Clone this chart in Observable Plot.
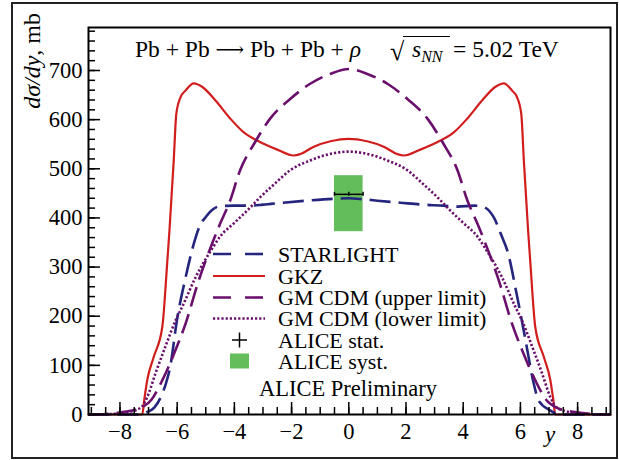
<!DOCTYPE html>
<html>
<head>
<meta charset="utf-8">
<script src="https://cdn.jsdelivr.net/npm/d3@7"></script>
<script src="https://cdn.jsdelivr.net/npm/@observablehq/plot@0.6"></script>
<style>
  html, body { margin: 0; padding: 0; background: #fff; }
  #wrap { position: relative; width: 619px; height: 460px; }
  #wrap svg.overlay { position: absolute; left: 0; top: 0; pointer-events: none; }
  #chart { position: absolute; left: 0; top: 0; }
</style>
</head>
<body>
<div id="wrap"><div id="chart"></div></div>
<script>
// ---------------- data ----------------
const xMajorTicks = [-8, -6, -4, -2, 0, 2, 4, 6, 8];
const yMajorTicks = [0, 100, 200, 300, 400, 500, 600, 700];

// GKZ (red solid)
const gkzY = [-9.1, -7.22, -7.15, -7.05, -6.82, -6.52, -6.35, -6.27, -6.12, -6.03, -5.88, -5.71, -5.42, -5.13, -4.66, -4.14, -3.67, -3.09, -2.5, -1.92, -1.69, -1.22, -0.64, 0,
              0.64, 1.22, 1.69, 1.92, 2.5, 3.09, 3.67, 4.14, 4.66, 5.13, 5.42, 5.71, 5.88, 6.03, 6.12, 6.27, 6.35, 6.52, 6.82, 7.05, 7.15, 7.22, 9.15];
const gkzV = [0, 0, 30, 69, 117, 178, 307, 374, 517, 612, 646, 659, 674, 667, 639, 602, 574, 554, 539, 527, 530, 545, 556, 561,
              556, 545, 530, 527, 539, 554, 574, 602, 639, 667, 674, 659, 646, 612, 517, 374, 307, 178, 117, 69, 30, 0, 0];

// STARLIGHT (navy dashed)
const slY = [-9.1, -7.4, -7.1, -6.8, -6.55, -6.4, -6.25, -6.0, -5.72, -5.42, -5.2, -5.0, -4.8, -4.5, -4.0, -3.5, -3.0, -2.3, -1.5, -0.5, 0,
             0.5, 1.0, 1.8, 2.6, 3.3, 3.8, 4.4, 4.72, 5.07, 5.36, 5.54, 5.89, 6.18, 6.47, 6.64, 7.05, 7.35, 9.15];
const slV = [0, 0, 4, 14, 38, 62, 95, 195, 275, 347, 385, 402, 415, 424, 425, 425, 427, 431, 435, 439, 440,
             438, 435, 431, 427, 425, 423, 425, 422, 401, 361, 334, 239, 151, 62, 28, 8, 0, 0];

// GM CDM upper limit (purple long dash)
const gmUpY = [-9.1, -8.5, -7.9, -7.3, -6.9, -6.5, -6.1, -5.7, -5.25, -4.75, -4.5, -4.15, -3.8, -3.3, -2.75, -2.05, -1.35, -0.65, 0,
               0.65, 1.35, 2.05, 2.75, 3.3, 3.8, 4.15, 4.5, 4.75, 5.25, 5.7, 6.1, 6.5, 6.9, 7.3, 7.9, 8.5, 9.15];
const gmUpV = [0, 1, 5, 13, 30, 72, 125, 186, 272, 352, 388, 435, 497, 552, 602, 642, 673, 693, 703,
               693, 673, 642, 602, 552, 497, 435, 388, 352, 272, 186, 125, 72, 30, 13, 5, 1, 0];

// GM CDM lower limit (purple dotted)
const gmLoY = [-9.1, -8.3, -7.7, -7.25, -7.05, -6.75, -6.4, -6.05, -5.8, -5.35, -4.75, -4.5, -4.0, -3.55, -3.1, -2.6, -2.05, -1.35, -0.5, 0,
               0.5, 1.35, 2.05, 2.6, 3.1, 3.55, 4.0, 4.5, 4.75, 5.35, 5.8, 6.05, 6.4, 6.75, 7.05, 7.25, 7.7, 8.3, 9.15];
const gmLoV = [0, 1, 5, 15, 35, 85, 140, 192, 222, 280, 340, 362, 390, 415, 442, 469, 497, 517, 532, 535,
               532, 517, 497, 469, 442, 415, 390, 362, 340, 280, 222, 192, 140, 85, 35, 15, 5, 1, 0];

// ALICE preliminary point
const aliceY = [0];
const aliceYLo = [-0.5];
const aliceYHi = [0.5];
const aliceVal = [448];
const aliceStat = [4];
const aliceSystLo = [372];
const aliceSystHi = [486];

// ---------------- build tables ----------------
const zip = (xs, vs) => xs.map((x, i) => ({x, v: vs[i]}));
const gkz = zip(gkzY, gkzV);
const starlight = zip(slY, slV);
const gmUp = zip(gmUpY, gmUpV);
const gmLo = zip(gmLoY, gmLoV);
const alice = aliceY.map((x, i) => ({x, x1: aliceYLo[i], x2: aliceYHi[i], v: aliceVal[i],
  s1: aliceVal[i] - aliceStat[i], s2: aliceVal[i] + aliceStat[i], sy1: aliceSystLo[i], sy2: aliceSystHi[i]}));
const aliceCaps = alice.flatMap(d => [d.x1, d.x, d.x2].map(x => ({x, s1: d.s1, s2: d.s2})));

const C_SL = "#25257e", C_GKZ = "#d21d1d", C_GM = "#6a106c", C_GREEN = "#64bd5b";

const W = 619, H = 460, ML = 88, MR = 9, MT = 27, MB = 46;
const innerW = W - ML - MR, innerH = H - MT - MB;
const xDomain = [-9.1, 9.15];
const xMinorTicks = d3.range(-9, 9.01, 0.5);
const yMinorTicks = d3.range(0, 781, 20);
const FONT = "'Liberation Serif', 'DejaVu Serif', serif";

const chart = Plot.plot({
  width: W, height: H,
  marginLeft: ML, marginRight: MR, marginTop: MT, marginBottom: MB,
  x: {domain: xDomain, label: null},
  y: {domain: [0, 787.5], label: null},
  style: {fontFamily: FONT, fontSize: "22.5px", color: "black", background: "transparent"},
  marks: [
    Plot.rect(alice, {x1: "x1", x2: "x2", y1: "sy1", y2: "sy2", fill: C_GREEN}),
    Plot.line(gkz, {x: "x", y: "v", stroke: C_GKZ, strokeWidth: 2.2, curve: "monotone-x"}),
    Plot.line(starlight, {x: "x", y: "v", stroke: C_SL, strokeWidth: 2.6, strokeDasharray: "21,8", strokeLinecap: "butt", curve: "monotone-x"}),
    Plot.line(gmLo, {x: "x", y: "v", stroke: C_GM, strokeWidth: 2.6, strokeDasharray: "2.2,2", strokeLinecap: "butt", curve: "monotone-x"}),
    Plot.line(gmUp, {x: "x", y: "v", stroke: C_GM, strokeWidth: 2.6, strokeDasharray: "20,8", strokeLinecap: "butt", curve: "monotone-x"}),
    Plot.ruleY(alice, {x1: "x1", x2: "x2", y: "v", stroke: "black", strokeWidth: 1.5}),
    Plot.ruleX(aliceCaps, {x: "x", y1: "s1", y2: "s2", stroke: "black", strokeWidth: 1.5}),
    // inward ticks
    Plot.tickX(xMinorTicks, {x: d => d, insetTop: innerH - 7, stroke: "black", strokeWidth: 1.5}),
    Plot.tickX(xMajorTicks, {x: d => d, insetTop: innerH - 12, stroke: "black", strokeWidth: 1.5}),
    Plot.tickY(yMinorTicks, {y: d => d, insetRight: innerW - 7, stroke: "black", strokeWidth: 1.5}),
    Plot.tickY(yMajorTicks, {y: d => d, insetRight: innerW - 12, stroke: "black", strokeWidth: 1.5}),
    Plot.axisX({ticks: xMajorTicks, tickSize: 0, tickPadding: 9, fontSize: 22.5}),
    Plot.axisY({ticks: yMajorTicks, tickSize: 0, tickPadding: 6, fontSize: 22.5}),
    Plot.frame({stroke: "black", strokeWidth: 2})
  ]
});
document.getElementById("chart").appendChild(chart);

// ---------------- overlay texts / legend ----------------
const ov = d3.select("#wrap").append("svg").attr("class", "overlay")
  .attr("width", W).attr("height", H)
  .style("font-family", FONT);

ov.append("rect").attr("x", 12).attr("y", 3).attr("width", 605).attr("height", 455)
  .attr("fill", "none").attr("stroke", "#222").attr("stroke-width", 2);

// title
const t1 = ov.append("text").attr("x", 135).attr("y", 57).attr("font-size", 23.5);
t1.append("tspan").text("Pb + Pb ");
t1.append("tspan").attr("font-family", "'DejaVu Serif', serif").attr("font-size", 20).attr("dy", -1).text("\u27F6");
t1.append("tspan").attr("dy", 1).text(" Pb + Pb + ");
t1.append("tspan").attr("font-style", "italic").text("\u03C1");
ov.append("text").attr("x", 390).attr("y", 60).attr("font-size", 26).text("\u221A");
ov.append("line").attr("x1", 403).attr("x2", 450).attr("y1", 36.5).attr("y2", 36.5).attr("stroke", "black").attr("stroke-width", 1.2);
const t2 = ov.append("text").attr("x", 412).attr("y", 57).attr("font-size", 23.5);
t2.append("tspan").attr("font-style", "italic").text("s");
t2.append("tspan").attr("font-style", "italic").attr("font-size", 16).attr("dy", 5).text("NN");
ov.append("text").attr("x", 453).attr("y", 57).attr("font-size", 23.5).text("= 5.02 TeV");

// y axis label
const yl = ov.append("text").attr("transform", "translate(40,13) rotate(-90)").attr("text-anchor", "end").attr("font-size", 24);
yl.append("tspan").attr("font-style", "italic").text("d\u03C3/dy");
yl.append("tspan").text(", mb");

// x axis label
ov.append("text").attr("x", 550).attr("y", 442).attr("text-anchor", "middle").attr("font-size", 23).attr("font-style", "italic").text("y");

// legend
const legendRows = [
  {label: "STARLIGHT", type: "line", color: C_SL, dash: "18,14", w: 2.6},
  {label: "GKZ", type: "line", color: C_GKZ, dash: null, w: 2.2},
  {label: "GM CDM (upper limit)", type: "line", color: C_GM, dash: "18,14", w: 2.6},
  {label: "GM CDM (lower limit)", type: "line", color: C_GM, dash: "2.2,2", w: 2.6},
  {label: "ALICE stat.", type: "cross"},
  {label: "ALICE syst.", type: "box"}
];
const rowY = [254, 276, 297.5, 318.5, 340, 361];
legendRows.forEach((r, i) => {
  const cy = rowY[i];
  if (r.type === "line") {
    const l = ov.append("line").attr("x1", 213).attr("x2", 265).attr("y1", cy).attr("y2", cy)
      .attr("stroke", r.color).attr("stroke-width", r.w);
    if (r.dash) l.attr("stroke-dasharray", r.dash);
  } else if (r.type === "cross") {
    ov.append("line").attr("x1", 232).attr("x2", 247).attr("y1", cy).attr("y2", cy).attr("stroke", "black").attr("stroke-width", 1.5);
    ov.append("line").attr("x1", 239.5).attr("x2", 239.5).attr("y1", cy - 7.5).attr("y2", cy + 7.5).attr("stroke", "black").attr("stroke-width", 1.5);
  } else {
    ov.append("rect").attr("x", 230).attr("y", cy - 7.5).attr("width", 19).attr("height", 15).attr("fill", C_GREEN);
  }
  ov.append("text").attr("x", 278).attr("y", cy + 7.5).attr("font-size", 22).text(r.label);
});
ov.append("text").attr("x", 348).attr("y", 396).attr("text-anchor", "middle").attr("font-size", 22.5).text("ALICE Preliminary");
</script>
</body>
</html>
